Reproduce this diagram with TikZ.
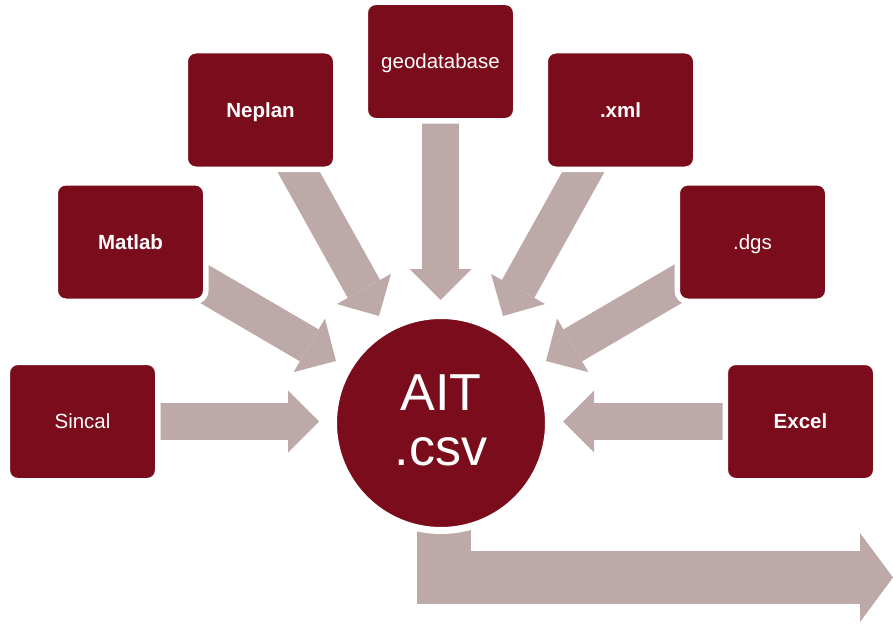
\documentclass[tikz,border=0pt]{standalone}
\usepackage{fontspec}
\setmainfont{Liberation Sans}
\usetikzlibrary{arrows.meta}
\definecolor{boxred}{RGB}{123,12,28}
\definecolor{arrowgray}{RGB}{190,169,169}
\begin{document}
\begin{tikzpicture}[x=1pt,y=-1pt,
  srcbox/.style={rectangle, rounded corners=10.5pt, fill=boxred, draw=white, line width=5.5pt,
    minimum width=150.5pt, minimum height=118.5pt, text=white, inner sep=0pt,
    font=\fontsize{20.5}{24}\selectfont, text height=14.7pt, text depth=0pt},
  feed/.style={draw=arrowgray, line width=37pt,
    -{Triangle[length=31pt 0 0, width=62pt 0 0, line width=0pt 0 0]}},
  outfeed/.style={draw=arrowgray, line width=53.5pt, line join=miter,
    -{Triangle[length=33pt 0 0, width=89pt 0 0, line width=0pt 0 0]}},
  hub/.style={circle, fill=boxred, draw=white, line width=7pt, minimum size=215pt, inner sep=0pt},
  hubtext/.style={text=white, font=\fontsize{52}{55}\selectfont, anchor=base, inner sep=0pt}
]
\useasboundingbox (0,0) rectangle (893,623);

% arrow end points
\coordinate (s1) at (140,421.5);   \coordinate (t1) at (319,421.5);
\coordinate (s2) at (742,421.5);   \coordinate (t2) at (563,421.5);
\coordinate (s3) at (440.5,100);   \coordinate (t3) at (440.5,300);
\coordinate (s4) at (293.8,163.2); \coordinate (t4) at (379,316);
\coordinate (s5) at (588.2,163.2); \coordinate (t5) at (503,316);
\coordinate (s6) at (189.3,275.2); \coordinate (t6) at (336,361);
\coordinate (s7) at (692.7,275.2); \coordinate (t7) at (546,361);
\coordinate (os) at (444,480);     \coordinate (oe) at (893,577.5);

% arrows
\draw[feed] (s1) -- (t1);
\draw[feed] (s2) -- (t2);
\draw[feed] (s3) -- (t3);
\draw[feed] (s4) -- (t4);
\draw[feed] (s5) -- (t5);
\draw[feed] (s6) -- (t6);
\draw[feed] (s7) -- (t7);
\draw[outfeed] (os) |- (oe);

% source boxes
\node[srcbox] (sincal) at (82.5,421.5) {Sincal};
\node[srcbox] (matlab) at (130.5,242) {\bfseries Matlab};
\node[srcbox] (neplan) at (260.5,110) {\bfseries Neplan};
\node[srcbox] (geo) at (440.5,61.5) {geodatabase};
\node[srcbox] (xml) at (620.5,110) {\bfseries .xml};
\node[srcbox] (dgs) at (752.5,242) {.dgs};
\node[srcbox] (excel) at (800.5,421.5) {\bfseries Excel};

% hub
\node[hub] (ait) at (441,423) {};
\node[hubtext] (aitA) at (441,410) {AIT};
\node[hubtext] (aitB) at (441,465) {.csv};
\end{tikzpicture}
\end{document}
